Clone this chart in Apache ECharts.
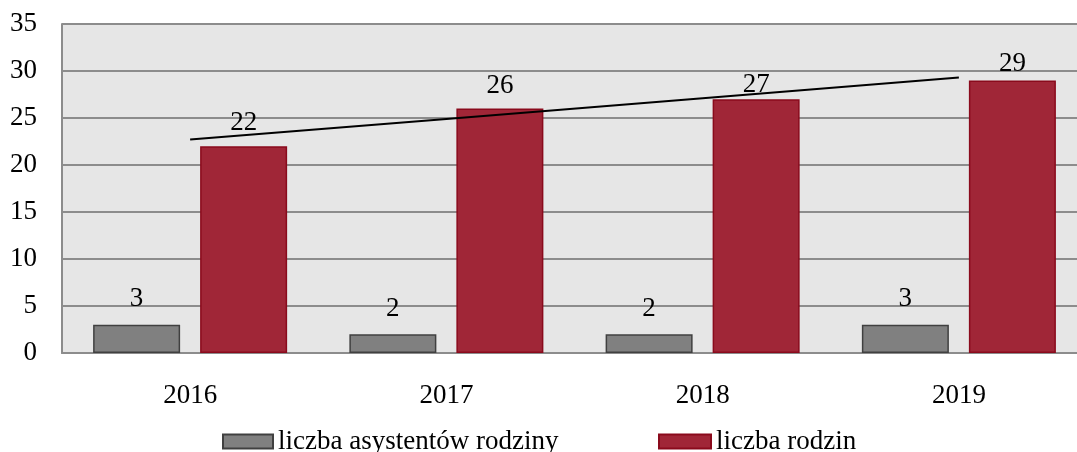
<!DOCTYPE html>
<html>
<head>
<meta charset="utf-8">
<script src="https://cdn.jsdelivr.net/npm/echarts@6/dist/echarts.min.js"></script>
<style>html,body{margin:0;padding:0;background:#fff;overflow:hidden;width:1077px;height:452px;}#c{width:1087px;height:452px;}</style>
</head>
<body>
<div id="c"></div>
<script>
const categories = ['2016', '2017', '2018', '2019'];
const asystenci = [3, 2, 2, 3];
const rodziny = [22, 26, 27, 29];
const trend = [22.7, 24.9, 27.1, 29.3];
const yTicks = { min: 0, max: 35, interval: 5 };
const seriesNames = ['liczba asystentów rodziny', 'liczba rodzin'];

const FONT = 'Liberation Serif';
const FS = 27;
// label gaps above each bar, as placed in the original
const grayLabelGap = [12, 12, 12, 12];
const redLabelGap = [10, 9, 1, 3];

const chart = echarts.init(document.getElementById('c'));
const labelStyle = { show: true, position: 'top', distance: 11, color: '#000', fontFamily: FONT, fontSize: FS };
function withGaps(values, gaps) {
  return values.map((v, i) => ({ value: v, label: { distance: gaps[i] } }));
}
chart.setOption({
  animation: false,
  textStyle: { fontFamily: FONT },
  grid: { left: 62, top: 24, right: 0, bottom: 99, backgroundColor: '#e6e6e6', show: true, borderWidth: 0 },
  legend: [
    { data: [seriesNames[0]], left: 222, top: 428, padding: 0, itemWidth: 50, itemHeight: 14, itemGap: 6, icon: 'rect',
      textStyle: { fontFamily: FONT, fontSize: FS, color: '#000' } },
    { data: [seriesNames[1]], left: 658, top: 428, padding: 0, itemWidth: 52, itemHeight: 14, itemGap: 6, icon: 'rect',
      textStyle: { fontFamily: FONT, fontSize: FS, color: '#000' } }
  ],
  xAxis: {
    type: 'category', data: categories,
    axisLine: { show: true, lineStyle: { color: '#8c8c8c', width: 2 } },
    axisTick: { show: false },
    axisLabel: { color: '#000', fontFamily: FONT, fontSize: FS, margin: 29 }
  },
  yAxis: {
    type: 'value', min: yTicks.min, max: yTicks.max, interval: yTicks.interval,
    axisLine: { show: true, lineStyle: { color: '#8c8c8c', width: 2 } },
    axisTick: { show: false },
    splitLine: { lineStyle: { color: '#8c8c8c', width: 2 } },
    axisLabel: { color: '#000', fontFamily: FONT, fontSize: FS, margin: 25 }
  },
  series: [
    { name: seriesNames[0], type: 'bar', data: withGaps(asystenci, grayLabelGap), barWidth: 87, barGap: '23%',
      itemStyle: { color: '#808080', borderColor: '#404040', borderWidth: 1.5 },
      label: labelStyle },
    { name: seriesNames[1], type: 'bar', data: withGaps(rodziny, redLabelGap), barWidth: 87,
      itemStyle: { color: '#a02637', borderColor: '#8a0a1c', borderWidth: 1.5 },
      label: labelStyle },
    { name: 'trend', type: 'line', data: trend, symbol: 'none', z: 5,
      lineStyle: { color: '#000', width: 2 }, silent: true }
  ]
});
</script>
</body>
</html>
